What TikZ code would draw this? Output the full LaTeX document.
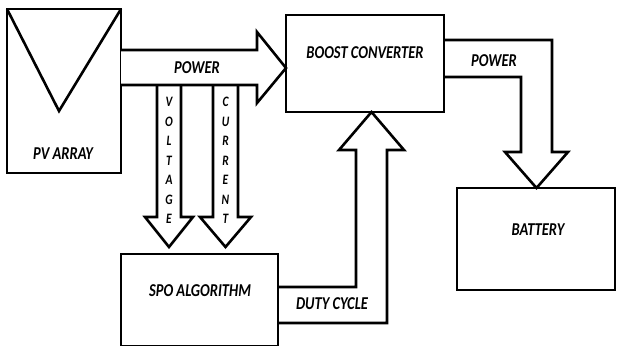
\documentclass[tikz,border=0pt]{standalone}
\usepackage{fontspec}
\setmainfont{Carlito}
\newcommand\tallt[1]{\scalebox{1}[1.25]{#1}}
\begin{document}
\begin{tikzpicture}[x=1pt,y=-1pt, line width=2.6pt, line join=miter,
  box/.style={draw, rectangle, inner sep=0pt, outer sep=0pt, anchor=north west},
  lbl/.style={font=\bfseries\itshape\fontsize{14.5}{16}\selectfont, inner sep=0pt},
  vl/.style={font=\bfseries\itshape\fontsize{11.5}{13}\selectfont, inner sep=0pt},
  blk/.style={draw, fill=white}]
\useasboundingbox (0,0) rectangle (617,345);
\clip (0,0) rectangle (617,345);
% boxes
\node[box, minimum width=114pt, minimum height=164pt] (pv) at (7,9) {};
\node[box, minimum width=158pt, minimum height=97pt] (boost) at (286,15) {};
\node[box, minimum width=158pt, minimum height=102pt] (bat) at (457,188) {};
\node[box, minimum width=157pt, minimum height=92pt] (spo) at (121,254) {};
\draw (pv.north west) -- (59,111) -- (pv.north east);
% power arrow PV -> boost
\draw[blk] (pv.east |- 0,50) -- (257,50) -- (257,32) -- (boost.west |- 0,68) -- (257,103) -- (257,85) -- (pv.east |- 0,85);
% voltage and current arrows
\draw (157,85) -- (157,217) -- (145,217) -- (169,247) -- (193,217) -- (181,217) -- (181,85);
\draw (213,85) -- (213,217) -- (200,217) -- (225.5,247) -- (251,217) -- (238,217) -- (238,85);
% power arrow boost -> battery
\draw (boost.east |- 0,40) -- (552,40) -- (552,152) -- (568,152) -- (536.5,188) -- (505,152) -- (521,152) -- (521,77) -- (boost.east |- 0,77);
% duty cycle arrow spo -> boost
\draw (spo.east |- 0,287) -- (356,287) -- (356,150) -- (339,150) -- (371.5,112) -- (404,150) -- (387,150) -- (387,323) -- (spo.east |- 0,323);
% labels
\node[lbl] (tpv) at (63,154) {\tallt{PV ARRAY}};
\node[lbl] (tp1) at (197,68) {\tallt{POWER}};
\node[lbl] (tbc) at (365,53) {\tallt{BOOST CONVERTER}};
\node[lbl] (tp2) at (494,61) {\tallt{POWER}};
\node[lbl] (tbat) at (538,230) {\tallt{BATTERY}};
\node[lbl] (tspo) at (200,291) {\tallt{SPO ALGORITHM}};
\node[lbl] (tdc) at (332,304) {\tallt{DUTY CYCLE}};
\foreach \l [count=\i from 0] in {V,O,L,T,A,G,E}
  \node[vl] (v\i) at (169,102+19.5*\i) {\tallt{\l}};
\foreach \l [count=\i from 0] in {C,U,R,R,E,N,T}
  \node[vl] (c\i) at (225.5,102+19.5*\i) {\tallt{\l}};
\end{tikzpicture}
\end{document}
